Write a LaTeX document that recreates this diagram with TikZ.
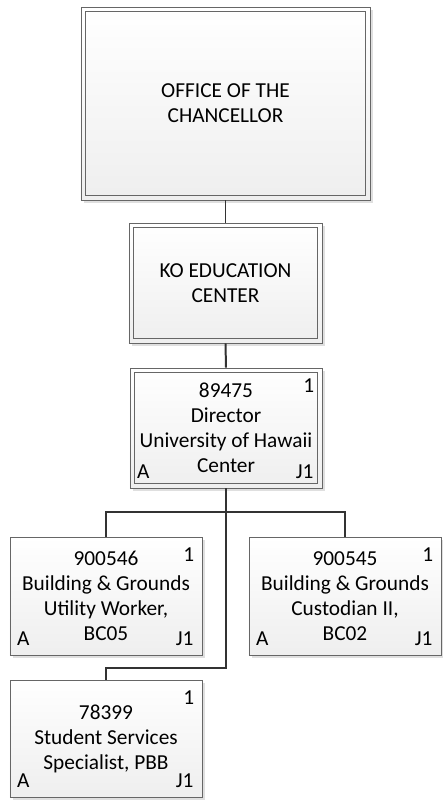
\documentclass[tikz,border=0pt]{standalone}
\usepackage{fontspec}
\setmainfont{Carlito}
\usetikzlibrary{shadows}
\begin{document}
\begin{tikzpicture}[x=0.03cm, y=-0.03cm,
    txt/.style={font=\fontsize{18.2}{21.3}\selectfont},
    box/.style={txt, draw=gray!80!black, line width=0.7pt, top color=white, bottom color=gray!13,
        align=center, inner sep=0pt,
        drop shadow={shadow xshift=2.5pt, shadow yshift=-2.5pt, fill=gray, opacity=0.25}},
    frame/.style={draw=gray!80!black, line width=0.7pt},
    posbox/.style={box, minimum width=5.76cm, minimum height=3.54cm},
    tag/.style={txt, inner sep=0pt},
    ne/.style={label={[tag, anchor=north east, xshift=-0.24cm, yshift=-0.33cm]north east:#1}},
    sw/.style={label={[tag, anchor=south west, xshift=0.22cm, yshift=0.28cm]south west:#1}},
    se/.style={label={[tag, anchor=south east, xshift=-0.26cm, yshift=0.28cm]south east:#1}},
    link/.style={line width=1.7pt, draw=black!80}]
    \useasboundingbox (0,0) rectangle (443,801);
    % units
    \node [box, minimum width=8.67cm, minimum height=5.79cm] (chan) at (225.5,103.5)
        {OFFICE OF THE\\CHANCELLOR};
    \node [box, minimum width=5.79cm, minimum height=3.6cm] (koec) at (225.5,283)
        {KO EDUCATION\\CENTER};
    \node [box, minimum width=5.76cm, minimum height=3.6cm, ne=1, sw=A, se=J1] (dir) at (226,428)
        {89475\\Director\\University of Hawaii\\Center};
    \foreach \unit in {chan,koec,dir}
        \draw [frame] ([shift={(4.25pt,-4.25pt)}]\unit.north west) rectangle
            ([shift={(-4.25pt,4.25pt)}]\unit.south east);
    % positions
    \node [posbox, ne=1, sw=A, se=J1] (bgu) at (106,596)
        {900546\\Building \& Grounds\\Utility Worker,\\BC05};
    \node [posbox, ne=1, sw=A, se=J1] (bgc) at (345,596)
        {900545\\Building \& Grounds\\Custodian II,\\BC02};
    \node [posbox, minimum height=3.51cm, ne=1, sw=A, se=J1] (ssp) at (106,738.5)
        {78399\\Student Services\\Specialist, PBB};
    % connectors
    \coordinate (split) at (226,512);
    \coordinate (turn) at (226,668);
    \draw [link] (chan.south) -- (koec.north);
    \draw [link] (koec.south) -- (dir.north);
    \draw [link] (dir.south) -- (split);
    \draw [link] (split) -| (bgu.north);
    \draw [link] (split) -| (bgc.north);
    \draw [link] (split) -- (turn) -| (ssp.north);
\end{tikzpicture}
\end{document}
